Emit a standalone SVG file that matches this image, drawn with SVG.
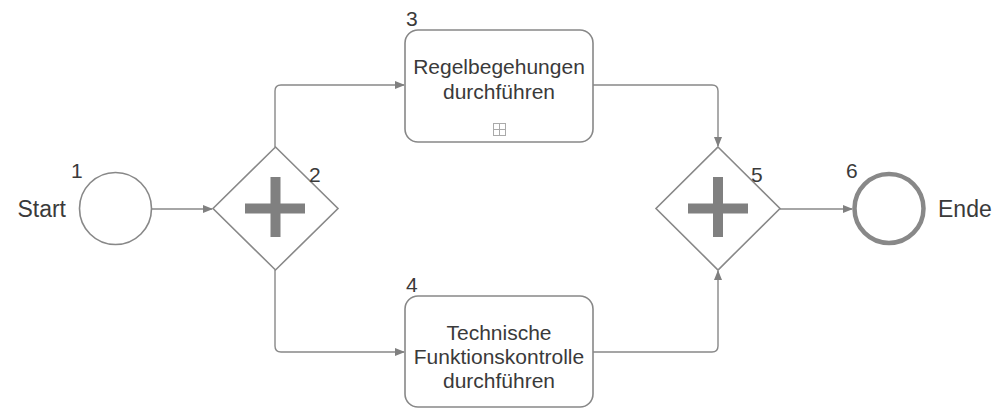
<svg xmlns="http://www.w3.org/2000/svg" width="998" height="409" viewBox="0 0 998 409">
<defs>
<style>
.txt{font-family:"Liberation Sans",Arial,sans-serif;font-size:21px;fill:#3a3a3a}
.num{font-family:"Liberation Sans",Arial,sans-serif;font-size:21px;fill:#3a3a3a}
.lbl{font-family:"Liberation Sans",Arial,sans-serif;font-size:23px;fill:#3a3a3a}
.node{fill:#fff;stroke:#888;stroke-width:1.6}
.conn{fill:none;stroke:#888;stroke-width:1.4}
.plus{fill:#808080}
</style>
<marker id="arr" markerWidth="10" markerHeight="8" refX="9" refY="4" orient="auto" markerUnits="userSpaceOnUse">
<path d="M0,0 L10,4 L0,8 Z" fill="#808080"/>
</marker>
</defs>
<rect width="998" height="409" fill="#fff"/>
<g id="connectors">
<path class="conn" d="M152,209 L212,209" marker-end="url(#arr)"/>
<path class="conn" d="M275,147 L275,91 Q275,85 281,85 L404,85" marker-end="url(#arr)"/>
<path class="conn" d="M275,270 L275,346 Q275,352 281,352 L404,352" marker-end="url(#arr)"/>
<path class="conn" d="M593,85 L712,85 Q718,85 718,91 L718,146" marker-end="url(#arr)"/>
<path class="conn" d="M593,352 L712,352 Q718,352 718,346 L718,271" marker-end="url(#arr)"/>
<path class="conn" d="M780,209 L852,209" marker-end="url(#arr)"/>
</g>
<g id="n1">
<circle class="node" cx="115.5" cy="208.5" r="36"/>
<text class="num" x="71" y="178">1</text>
<text class="lbl" x="66" y="217" text-anchor="end">Start</text>
</g>
<g id="n2">
<path class="node" d="M275.5,147 L338,208.5 L275.5,270 L213,208.5 Z"/>
<rect class="plus" x="245" y="203.5" width="60" height="10"/>
<rect class="plus" x="270.5" y="177" width="10" height="60"/>
<text class="num" x="309" y="182">2</text>
</g>
<g id="n3">
<rect class="node" x="405" y="30" width="188" height="112" rx="13"/>
<text class="txt" x="499" y="74" text-anchor="middle">Regelbegehungen</text>
<text class="txt" x="499" y="99" text-anchor="middle">durchführen</text>
<rect x="493.5" y="123.5" width="12" height="12" fill="none" stroke="#aaa" stroke-width="1"/>
<path d="M499.5,124 L499.5,135 M494,129.5 L505,129.5" stroke="#aaa" stroke-width="1"/>
<text class="num" x="406" y="26">3</text>
</g>
<g id="n4">
<rect class="node" x="405" y="296" width="188" height="111" rx="13"/>
<text class="txt" x="499" y="340" text-anchor="middle">Technische</text>
<text class="txt" x="499" y="364" text-anchor="middle">Funktionskontrolle</text>
<text class="txt" x="499" y="388" text-anchor="middle">durchführen</text>
<text class="num" x="406" y="292">4</text>
</g>
<g id="n5">
<path class="node" d="M718,147 L780,208.5 L718,270 L656,208.5 Z"/>
<rect class="plus" x="688" y="203.5" width="60" height="10"/>
<rect class="plus" x="713" y="177" width="10" height="60"/>
<text class="num" x="751" y="182">5</text>
</g>
<g id="n6">
<circle cx="889" cy="208.5" r="34.5" fill="#fff" stroke="#888" stroke-width="4.5"/>
<text class="num" x="846" y="178">6</text>
<text class="lbl" x="938" y="217">Ende</text>
</g>
</svg>
